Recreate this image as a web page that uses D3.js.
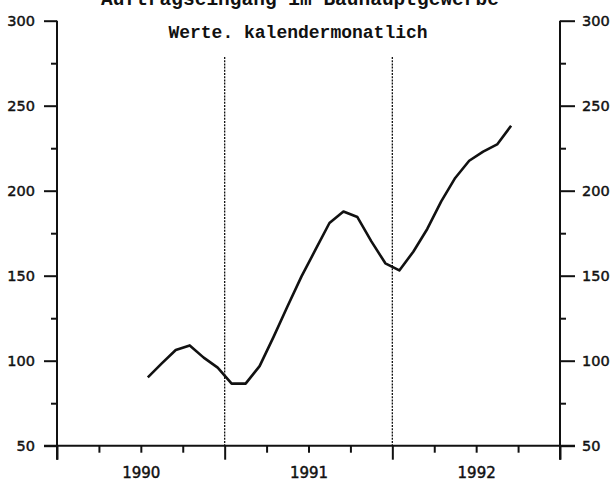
<!DOCTYPE html>
<html><head><meta charset="utf-8">
<script src="https://cdn.jsdelivr.net/npm/d3@7"></script>
<style>
html,body{margin:0;padding:0;background:#fff;}
svg{display:block;}
</style></head>
<body>
<svg id="c" width="613" height="481"></svg>
<script>
// ---- data ----
const titleLines = ["Auftragseingang im Bauhauptgewerbe", "Werte. kalendermonatlich"];
const years = ["1990", "1991", "1992"];
const months = ["1990-07","1990-08","1990-09","1990-10","1990-11","1990-12",
  "1991-01","1991-02","1991-03","1991-04","1991-05","1991-06",
  "1991-07","1991-08","1991-09","1991-10","1991-11","1991-12",
  "1992-01","1992-02","1992-03","1992-04","1992-05","1992-06",
  "1992-07","1992-08","1992-09"];
const values = [90.2, 98.4, 106.3, 109.0, 101.8, 95.9,
  86.5, 86.5, 96.8, 114.0, 132.0, 149.6,
  165.3, 181.0, 187.8, 184.5, 170.2, 157.3,
  153.1, 164.1, 177.5, 193.7, 207.5, 217.6,
  223.0, 227.2, 238.2];
const yMajor = [50, 100, 150, 200, 250, 300];
const yMinor = [75, 125, 175, 225, 275];
const dividerYears = ["1991", "1992"];

(function () {
// ---- layout ----
const mL = 57, mR = 560, mT = 20.7, mB = 445.7;
const startYear = +years[0];
const monthIndex = s => (+s.slice(0,4) - startYear) * 12 + (+s.slice(5,7) - 1);

const x = d3.scaleLinear().domain([0, years.length * 12]).range([mL, mR]);
const y = d3.scaleLinear().domain([50, 300]).range([mB, mT]);

const svg = d3.select("#c");
const tickFont = "'DejaVu Sans', sans-serif";

// titles
svg.append("text").attr("x", 300).attr("y", 5).attr("text-anchor", "middle")
  .attr("font-family", "'Liberation Mono', monospace").attr("font-weight", "bold")
  .attr("font-size", 19.5).attr("fill", "#111").text(titleLines[0]);
svg.append("text").attr("x", 298).attr("y", 38).attr("text-anchor", "middle")
  .attr("font-family", "'Liberation Mono', monospace").attr("font-weight", "bold")
  .attr("font-size", 18).attr("fill", "#111").text(titleLines[1]);

// dashed year dividers
svg.selectAll("line.div").data(dividerYears).join("line")
  .attr("class", "div")
  .attr("x1", d => x((+d - startYear) * 12)).attr("x2", d => x((+d - startYear) * 12))
  .attr("y1", 57).attr("y2", mB)
  .attr("stroke", "#111").attr("stroke-width", 1.3).attr("stroke-dasharray", "2,1.2");

function styleAxis(g, fs) {
  g.select(".domain").remove();
  g.selectAll(".tick line").attr("stroke", "#111").attr("stroke-width", 2);
  g.selectAll(".tick text").attr("font-family", tickFont).attr("font-size", fs || 14.5)
    .attr("fill", "#111").attr("stroke", "#111").attr("stroke-width", 0.45);
}

// left axis
const gL = svg.append("g").attr("transform", `translate(${mL},0)`);
gL.append("g").call(d3.axisLeft(y).tickValues(yMajor).tickSize(13).tickPadding(9).tickFormat(d3.format("d"))).call(styleAxis);
gL.append("g").call(d3.axisLeft(y).tickValues(yMinor).tickSize(6).tickFormat("")).call(styleAxis);

// right axis
const gR = svg.append("g").attr("transform", `translate(${mR},0)`);
gR.append("g").call(d3.axisRight(y).tickValues(yMajor).tickSize(15).tickPadding(7).tickFormat(d3.format("d"))).call(styleAxis);
gR.append("g").call(d3.axisRight(y).tickValues(yMinor).tickSize(6).tickFormat("")).call(styleAxis);

// bottom axis
const gB = svg.append("g").attr("transform", `translate(0,${mB})`);
const majorX = d3.range(0, years.length + 1).map(i => i * 12);
const minorX = d3.range(0, years.length * 12 + 1, 3).filter(m => m % 12 !== 0);
gB.append("g").call(d3.axisBottom(x).tickValues(majorX).tickSize(14).tickFormat("")).call(styleAxis);
gB.append("g").call(d3.axisBottom(x).tickValues(minorX).tickSize(7).tickFormat("")).call(styleAxis);
gB.append("g").call(d3.axisBottom(x).tickValues(years.map((yy, i) => i * 12 + 6)).tickSize(0).tickPadding(22)
  .tickFormat((d, i) => years[i])).call(g => styleAxis(g, 15));

// axis lines
svg.append("line").attr("x1", mL).attr("x2", mL).attr("y1", mT).attr("y2", mB + 14)
  .attr("stroke", "#111").attr("stroke-width", 2);
svg.append("line").attr("x1", mR).attr("x2", mR).attr("y1", mT).attr("y2", mB + 14)
  .attr("stroke", "#111").attr("stroke-width", 2);
svg.append("line").attr("x1", mL - 13).attr("x2", mR + 15).attr("y1", mB).attr("y2", mB)
  .attr("stroke", "#111").attr("stroke-width", 2);

// data line
const line = d3.line().x((d, i) => x(monthIndex(months[i]) + 0.5)).y(d => y(d));
svg.append("path").datum(values).attr("d", line)
  .attr("fill", "none").attr("stroke", "#111").attr("stroke-width", 2.6).attr("stroke-linejoin", "round");
})();
</script>
</body></html>
